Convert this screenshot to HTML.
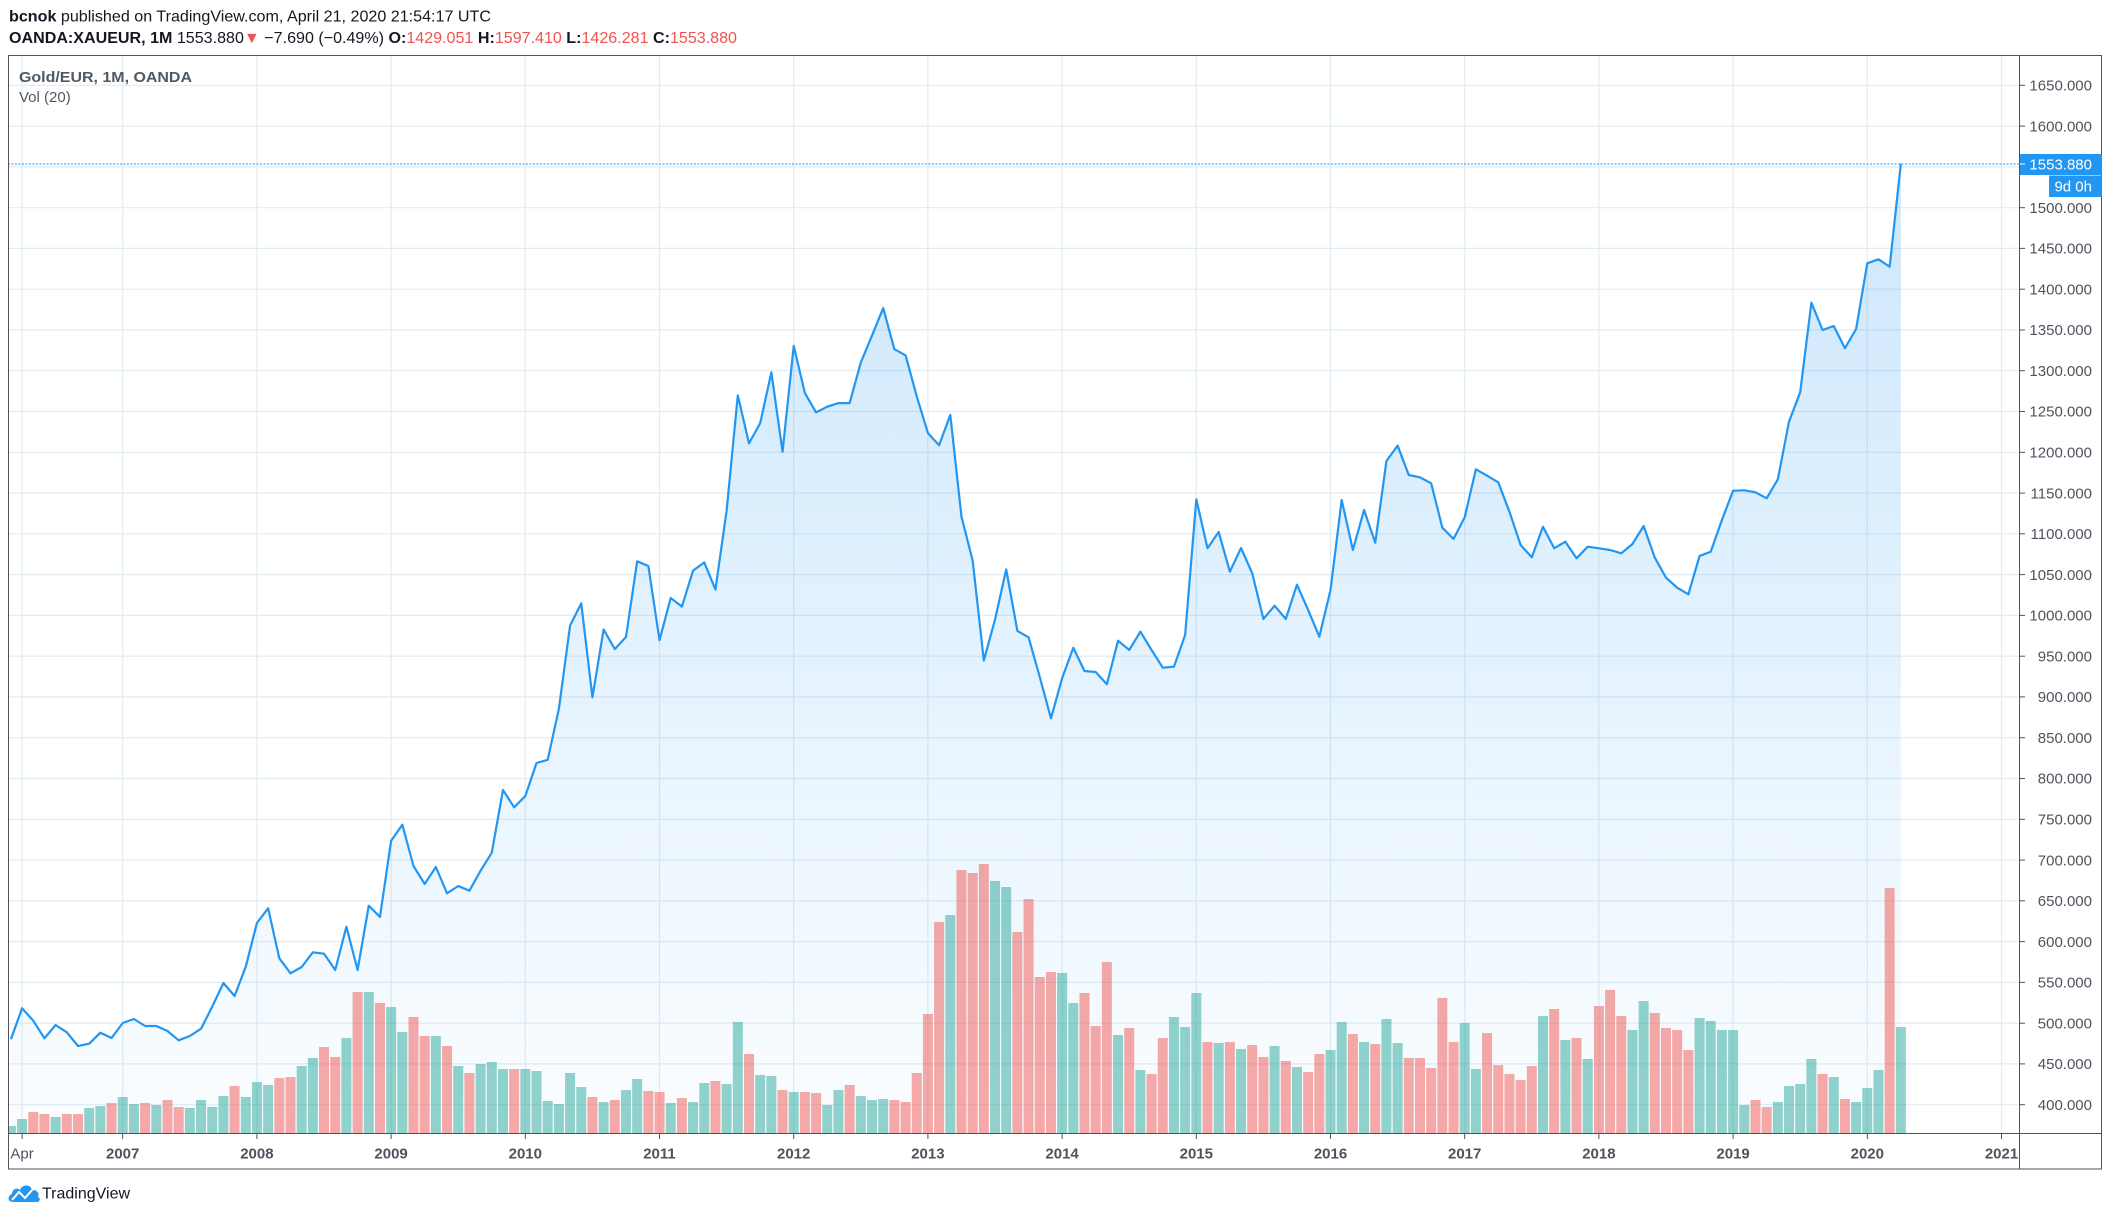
<!DOCTYPE html>
<html><head><meta charset="utf-8"><style>
html,body{margin:0;padding:0;background:#fff;width:2110px;height:1216px;overflow:hidden;}
svg{display:block;}
text{font-family:"Liberation Sans",Arial,sans-serif;}
</style></head><body>
<svg width="2110" height="1216" viewBox="0 0 2110 1216" xmlns="http://www.w3.org/2000/svg">
<defs>
<linearGradient id="ag" gradientUnits="userSpaceOnUse" x1="0" y1="55" x2="0" y2="1134">
<stop offset="0" stop-color="#2196f3" stop-opacity="0.25"/>
<stop offset="1" stop-color="#2196f3" stop-opacity="0.02"/>
</linearGradient>
<clipPath id="plot"><rect x="8.5" y="55.5" width="2011" height="1078"/></clipPath>
</defs>
<rect width="2110" height="1216" fill="#fff"/>

<!-- header -->
<text x="9" y="21.5" font-size="16" fill="#131722" textLength="482" lengthAdjust="spacingAndGlyphs"><tspan font-weight="bold">bcnok</tspan> published on TradingView.com, April 21, 2020 21:54:17 UTC</text>
<text x="9" y="43" font-size="16" fill="#131722" textLength="728" lengthAdjust="spacingAndGlyphs"><tspan font-weight="bold">OANDA:XAUEUR, 1M</tspan> 1553.880<tspan fill="#ef5350">▼</tspan> −7.690 (−0.49%) <tspan font-weight="bold">O:</tspan><tspan fill="#ef5350">1429.051</tspan> <tspan font-weight="bold">H:</tspan><tspan fill="#ef5350">1597.410</tspan> <tspan font-weight="bold">L:</tspan><tspan fill="#ef5350">1426.281</tspan> <tspan font-weight="bold">C:</tspan><tspan fill="#ef5350">1553.880</tspan></text>

<!-- grid -->
<g stroke="#e1ecf2" stroke-width="1.2" clip-path="url(#plot)">
<line x1="8" x2="2019" y1="85.3" y2="85.3"/><line x1="8" x2="2019" y1="126.1" y2="126.1"/><line x1="8" x2="2019" y1="166.9" y2="166.9"/><line x1="8" x2="2019" y1="207.7" y2="207.7"/><line x1="8" x2="2019" y1="248.4" y2="248.4"/><line x1="8" x2="2019" y1="289.2" y2="289.2"/><line x1="8" x2="2019" y1="330" y2="330"/><line x1="8" x2="2019" y1="370.7" y2="370.7"/><line x1="8" x2="2019" y1="411.5" y2="411.5"/><line x1="8" x2="2019" y1="452.3" y2="452.3"/><line x1="8" x2="2019" y1="493.1" y2="493.1"/><line x1="8" x2="2019" y1="533.8" y2="533.8"/><line x1="8" x2="2019" y1="574.6" y2="574.6"/><line x1="8" x2="2019" y1="615.4" y2="615.4"/><line x1="8" x2="2019" y1="656.2" y2="656.2"/><line x1="8" x2="2019" y1="696.9" y2="696.9"/><line x1="8" x2="2019" y1="737.7" y2="737.7"/><line x1="8" x2="2019" y1="778.5" y2="778.5"/><line x1="8" x2="2019" y1="819.3" y2="819.3"/><line x1="8" x2="2019" y1="860.1" y2="860.1"/><line x1="8" x2="2019" y1="900.8" y2="900.8"/><line x1="8" x2="2019" y1="941.6" y2="941.6"/><line x1="8" x2="2019" y1="982.4" y2="982.4"/><line x1="8" x2="2019" y1="1023.2" y2="1023.2"/><line x1="8" x2="2019" y1="1063.9" y2="1063.9"/><line x1="8" x2="2019" y1="1104.7" y2="1104.7"/>
<line y1="55" y2="1134" x1="22.1" x2="22.1"/><line y1="55" y2="1134" x1="122.7" x2="122.7"/><line y1="55" y2="1134" x1="256.9" x2="256.9"/><line y1="55" y2="1134" x1="391.1" x2="391.1"/><line y1="55" y2="1134" x1="525.3" x2="525.3"/><line y1="55" y2="1134" x1="659.5" x2="659.5"/><line y1="55" y2="1134" x1="793.7" x2="793.7"/><line y1="55" y2="1134" x1="927.9" x2="927.9"/><line y1="55" y2="1134" x1="1062.1" x2="1062.1"/><line y1="55" y2="1134" x1="1196.3" x2="1196.3"/><line y1="55" y2="1134" x1="1330.5" x2="1330.5"/><line y1="55" y2="1134" x1="1464.7" x2="1464.7"/><line y1="55" y2="1134" x1="1598.9" x2="1598.9"/><line y1="55" y2="1134" x1="1733.1" x2="1733.1"/><line y1="55" y2="1134" x1="1867.3" x2="1867.3"/><line y1="55" y2="1134" x1="2001.5" x2="2001.5"/>
</g>

<!-- legend -->
<text x="19" y="82" font-size="15" font-weight="bold" fill="#4f5966" textLength="173" lengthAdjust="spacingAndGlyphs">Gold/EUR, 1M, OANDA</text>
<text x="19" y="102" font-size="15" fill="#4f5966">Vol (20)</text>

<g clip-path="url(#plot)">
<g transform="translate(22.1 0) scale(11.183 1)">
<polygon fill="url(#ag)" points="-1,1133.3 -1,1039.3 0,1008.3 1,1020.7 2,1038.3 3,1025 4,1032.3 5,1046 6,1043.7 7,1032.7 8,1038 9,1023 10,1019 11,1026 12,1026 13,1031 14,1040.3 15,1036 16,1028.7 17,1006.7 18,983 19,996 20,966.7 21,923 22,908.3 23,958.3 24,973.3 25,967 26,952.3 27,953.7 28,970 29,926.7 30,970 31,905.7 32,917 33,840.7 34,824.7 35,866 36,884 37,867 38,893.3 39,886 40,890.7 41,870.7 42,852.7 43,790 44,807.3 45,796 46,763 47,759.8 48,708.8 49,625.6 50,603.4 51,697.3 52,629.5 53,649.1 54,637 55,561.3 56,566 57,640.2 58,598 59,606.6 60,570.6 61,562.4 62,589.5 63,510.6 64,395.3 65,443.4 66,423.1 67,372.4 68,451.7 69,346 70,393.1 71,412.4 72,406.7 73,403.1 74,403.1 75,362.4 76,335.6 77,308.1 78,349.2 79,355.3 80,396.3 81,433.1 82,445.2 83,414.9 84,516.6 85,560.6 86,660.6 87,619.5 88,569.5 89,630.9 90,637.3 91,677 92,718.3 93,678.3 94,647.7 95,671 96,672 97,684.3 98,640.7 99,650 100,631.7 101,650 102,667.7 103,666.7 104,635 105,499.3 106,548.3 107,532 108,571.7 109,548 110,573.3 111,619 112,605.7 113,619 114,584.7 115,610 116,636.7 117,590 118,500 119,550 120,510 121,542.7 122,461 123,445.7 124,475 125,477.3 126,483.3 127,527.7 128,539 129,517.3 130,469.3 131,475.7 132,482.3 133,511.7 134,545 135,557.3 136,526.7 137,548.3 138,541.7 139,558.3 140,546.7 141,548.3 142,550 143,553.3 144,544 145,526 146,557.7 147,577.7 148,587.7 149,594.3 150,556 151,551.7 152,520 153,490.7 154,490.3 155,492.3 156,498.3 157,479.3 158,421.7 159,392.3 160,302.7 161,330 162,326 163,348.3 164,329 165,263.3 166,259.3 167,266.7 168,163.7 168,1133.3"/>

<!-- volume bars as vertical strokes (width 0.894 user units = 10px) -->
<path fill="none" stroke="rgba(38,166,154,0.5)" stroke-width="0.894" stroke-linecap="butt" d="M-1,1126V1133.3M0,1119V1133.3M3,1117V1133.3M6,1108V1133.3M7,1106V1133.3M9,1097V1133.3M10,1104V1133.3M12,1105V1133.3M15,1108V1133.3M16,1100V1133.3M17,1107V1133.3M18,1096V1133.3M20,1097V1133.3M21,1082V1133.3M22,1085V1133.3M25,1066V1133.3M26,1058V1133.3M29,1038V1133.3M31,992V1133.3M33,1007V1133.3M34,1032V1133.3M37,1036V1133.3M39,1066V1133.3M41,1064V1133.3M42,1062V1133.3M43,1069V1133.3M45,1069V1133.3M46,1071V1133.3M47,1101V1133.3M48,1104V1133.3M49,1073V1133.3M50,1087V1133.3M52,1102V1133.3M54,1090V1133.3M55,1079V1133.3M58,1103V1133.3M60,1102V1133.3M61,1083V1133.3M63,1084V1133.3M64,1022V1133.3M66,1075V1133.3M67,1076V1133.3M69,1092V1133.3M72,1105V1133.3M73,1090V1133.3M75,1096V1133.3M76,1100V1133.3M77,1099V1133.3M83,915V1133.3M87,881V1133.3M88,887V1133.3M93,973V1133.3M94,1003V1133.3M98,1035V1133.3M100,1070V1133.3M103,1017V1133.3M104,1027V1133.3M105,993V1133.3M107,1043V1133.3M109,1049V1133.3M112,1046V1133.3M114,1067V1133.3M117,1050V1133.3M118,1022V1133.3M120,1042V1133.3M122,1019V1133.3M123,1043V1133.3M129,1023V1133.3M130,1069V1133.3M136,1016V1133.3M138,1040V1133.3M140,1059V1133.3M144,1030V1133.3M145,1001V1133.3M150,1018V1133.3M151,1021V1133.3M152,1030V1133.3M153,1030V1133.3M154,1105V1133.3M157,1102V1133.3M158,1086V1133.3M159,1084V1133.3M160,1059V1133.3M162,1077V1133.3M164,1102V1133.3M165,1088V1133.3M166,1070V1133.3M168,1027V1133.3"/>
<path fill="none" stroke="rgba(239,83,80,0.5)" stroke-width="0.894" stroke-linecap="butt" d="M1,1112V1133.3M2,1114V1133.3M4,1114V1133.3M5,1114V1133.3M8,1103V1133.3M11,1103V1133.3M13,1100V1133.3M14,1107V1133.3M19,1086V1133.3M23,1078V1133.3M24,1077V1133.3M27,1047V1133.3M28,1057V1133.3M30,992V1133.3M32,1003V1133.3M35,1017V1133.3M36,1036V1133.3M38,1046V1133.3M40,1073V1133.3M44,1069V1133.3M51,1097V1133.3M53,1100V1133.3M56,1091V1133.3M57,1092V1133.3M59,1098V1133.3M62,1081V1133.3M65,1054V1133.3M68,1090V1133.3M70,1092V1133.3M71,1093V1133.3M74,1085V1133.3M78,1100V1133.3M79,1102V1133.3M80,1073V1133.3M81,1014V1133.3M82,922V1133.3M84,870V1133.3M85,873V1133.3M86,864V1133.3M89,932V1133.3M90,899V1133.3M91,977V1133.3M92,972V1133.3M95,993V1133.3M96,1026V1133.3M97,962V1133.3M99,1028V1133.3M101,1074V1133.3M102,1038V1133.3M106,1042V1133.3M108,1042V1133.3M110,1045V1133.3M111,1057V1133.3M113,1061V1133.3M115,1072V1133.3M116,1054V1133.3M119,1034V1133.3M121,1044V1133.3M124,1058V1133.3M125,1058V1133.3M126,1068V1133.3M127,998V1133.3M128,1042V1133.3M131,1033V1133.3M132,1065V1133.3M133,1074V1133.3M134,1080V1133.3M135,1066V1133.3M137,1009V1133.3M139,1038V1133.3M141,1006V1133.3M142,990V1133.3M143,1016V1133.3M146,1013V1133.3M147,1028V1133.3M148,1030V1133.3M149,1050V1133.3M155,1100V1133.3M156,1107V1133.3M161,1074V1133.3M163,1099V1133.3M167,888V1133.3"/>

<polyline fill="none" stroke="#2196f3" stroke-width="2.2" stroke-linejoin="round" vector-effect="non-scaling-stroke" points="-1,1039.3 0,1008.3 1,1020.7 2,1038.3 3,1025 4,1032.3 5,1046 6,1043.7 7,1032.7 8,1038 9,1023 10,1019 11,1026 12,1026 13,1031 14,1040.3 15,1036 16,1028.7 17,1006.7 18,983 19,996 20,966.7 21,923 22,908.3 23,958.3 24,973.3 25,967 26,952.3 27,953.7 28,970 29,926.7 30,970 31,905.7 32,917 33,840.7 34,824.7 35,866 36,884 37,867 38,893.3 39,886 40,890.7 41,870.7 42,852.7 43,790 44,807.3 45,796 46,763 47,759.8 48,708.8 49,625.6 50,603.4 51,697.3 52,629.5 53,649.1 54,637 55,561.3 56,566 57,640.2 58,598 59,606.6 60,570.6 61,562.4 62,589.5 63,510.6 64,395.3 65,443.4 66,423.1 67,372.4 68,451.7 69,346 70,393.1 71,412.4 72,406.7 73,403.1 74,403.1 75,362.4 76,335.6 77,308.1 78,349.2 79,355.3 80,396.3 81,433.1 82,445.2 83,414.9 84,516.6 85,560.6 86,660.6 87,619.5 88,569.5 89,630.9 90,637.3 91,677 92,718.3 93,678.3 94,647.7 95,671 96,672 97,684.3 98,640.7 99,650 100,631.7 101,650 102,667.7 103,666.7 104,635 105,499.3 106,548.3 107,532 108,571.7 109,548 110,573.3 111,619 112,605.7 113,619 114,584.7 115,610 116,636.7 117,590 118,500 119,550 120,510 121,542.7 122,461 123,445.7 124,475 125,477.3 126,483.3 127,527.7 128,539 129,517.3 130,469.3 131,475.7 132,482.3 133,511.7 134,545 135,557.3 136,526.7 137,548.3 138,541.7 139,558.3 140,546.7 141,548.3 142,550 143,553.3 144,544 145,526 146,557.7 147,577.7 148,587.7 149,594.3 150,556 151,551.7 152,520 153,490.7 154,490.3 155,492.3 156,498.3 157,479.3 158,421.7 159,392.3 160,302.7 161,330 162,326 163,348.3 164,329 165,263.3 166,259.3 167,266.7 168,163.7"/>
</g>
<line x1="8" x2="2019" y1="164" y2="164" stroke="#2196f3" stroke-width="1" stroke-dasharray="2 1.5"/>
</g>

<!-- frame and axes -->
<rect x="8.5" y="55.5" width="2093" height="1113.5" fill="none" stroke="#50535e" stroke-width="1"/>
<line x1="2019.5" x2="2019.5" y1="55" y2="1169" stroke="#50535e" stroke-width="1"/>
<line x1="8" x2="2102" y1="1133.5" y2="1133.5" stroke="#50535e" stroke-width="1"/>

<!-- price axis ticks -->
<g stroke="#50535e" stroke-width="1">
<line x1="2019.5" x2="2025" y1="85.3" y2="85.3"/><line x1="2019.5" x2="2025" y1="126.1" y2="126.1"/><line x1="2019.5" x2="2025" y1="207.7" y2="207.7"/><line x1="2019.5" x2="2025" y1="248.4" y2="248.4"/><line x1="2019.5" x2="2025" y1="289.2" y2="289.2"/><line x1="2019.5" x2="2025" y1="330" y2="330"/><line x1="2019.5" x2="2025" y1="370.7" y2="370.7"/><line x1="2019.5" x2="2025" y1="411.5" y2="411.5"/><line x1="2019.5" x2="2025" y1="452.3" y2="452.3"/><line x1="2019.5" x2="2025" y1="493.1" y2="493.1"/><line x1="2019.5" x2="2025" y1="533.8" y2="533.8"/><line x1="2019.5" x2="2025" y1="574.6" y2="574.6"/><line x1="2019.5" x2="2025" y1="615.4" y2="615.4"/><line x1="2019.5" x2="2025" y1="656.2" y2="656.2"/><line x1="2019.5" x2="2025" y1="696.9" y2="696.9"/><line x1="2019.5" x2="2025" y1="737.7" y2="737.7"/><line x1="2019.5" x2="2025" y1="778.5" y2="778.5"/><line x1="2019.5" x2="2025" y1="819.3" y2="819.3"/><line x1="2019.5" x2="2025" y1="860.1" y2="860.1"/><line x1="2019.5" x2="2025" y1="900.8" y2="900.8"/><line x1="2019.5" x2="2025" y1="941.6" y2="941.6"/><line x1="2019.5" x2="2025" y1="982.4" y2="982.4"/><line x1="2019.5" x2="2025" y1="1023.2" y2="1023.2"/><line x1="2019.5" x2="2025" y1="1063.9" y2="1063.9"/><line x1="2019.5" x2="2025" y1="1104.7" y2="1104.7"/>
</g>
<g font-size="15" fill="#50535e" text-anchor="end">
<text x="2092" y="90.5">1650.000</text><text x="2092" y="131.3">1600.000</text><text x="2092" y="212.9">1500.000</text><text x="2092" y="253.6">1450.000</text><text x="2092" y="294.4">1400.000</text><text x="2092" y="335.2">1350.000</text><text x="2092" y="375.9">1300.000</text><text x="2092" y="416.7">1250.000</text><text x="2092" y="457.5">1200.000</text><text x="2092" y="498.3">1150.000</text><text x="2092" y="539">1100.000</text><text x="2092" y="579.8">1050.000</text><text x="2092" y="620.6">1000.000</text><text x="2092" y="661.4">950.000</text><text x="2092" y="702.1">900.000</text><text x="2092" y="742.9">850.000</text><text x="2092" y="783.7">800.000</text><text x="2092" y="824.5">750.000</text><text x="2092" y="865.3">700.000</text><text x="2092" y="906">650.000</text><text x="2092" y="946.8">600.000</text><text x="2092" y="987.6">550.000</text><text x="2092" y="1028.4">500.000</text><text x="2092" y="1069.1">450.000</text><text x="2092" y="1109.9">400.000</text>
</g>

<!-- last price labels -->
<rect x="2020" y="154" width="82" height="21" fill="#2196f3"/>
<line x1="2019.5" x2="2025" y1="164" y2="164" stroke="#fff" stroke-width="1"/>
<text x="2092" y="169.5" font-size="15" fill="#fff" text-anchor="end">1553.880</text>
<rect x="2049" y="175.5" width="53" height="21.5" fill="#2196f3"/>
<text x="2092" y="191.5" font-size="15" fill="#fff" text-anchor="end">9d 0h</text>

<!-- time axis -->
<g stroke="#50535e" stroke-width="1">
<line y1="1133.5" y2="1139" x1="22.1" x2="22.1"/><line y1="1133.5" y2="1139" x1="122.7" x2="122.7"/><line y1="1133.5" y2="1139" x1="256.9" x2="256.9"/><line y1="1133.5" y2="1139" x1="391.1" x2="391.1"/><line y1="1133.5" y2="1139" x1="525.3" x2="525.3"/><line y1="1133.5" y2="1139" x1="659.5" x2="659.5"/><line y1="1133.5" y2="1139" x1="793.7" x2="793.7"/><line y1="1133.5" y2="1139" x1="927.9" x2="927.9"/><line y1="1133.5" y2="1139" x1="1062.1" x2="1062.1"/><line y1="1133.5" y2="1139" x1="1196.3" x2="1196.3"/><line y1="1133.5" y2="1139" x1="1330.5" x2="1330.5"/><line y1="1133.5" y2="1139" x1="1464.7" x2="1464.7"/><line y1="1133.5" y2="1139" x1="1598.9" x2="1598.9"/><line y1="1133.5" y2="1139" x1="1733.1" x2="1733.1"/><line y1="1133.5" y2="1139" x1="1867.3" x2="1867.3"/><line y1="1133.5" y2="1139" x1="2001.5" x2="2001.5"/>
</g>
<g font-size="15" fill="#50535e" text-anchor="middle">
<text x="22.1" y="1158.5">Apr</text>
<g font-weight="bold">
<text x="122.7" y="1158.5">2007</text><text x="256.9" y="1158.5">2008</text><text x="391.1" y="1158.5">2009</text><text x="525.3" y="1158.5">2010</text><text x="659.5" y="1158.5">2011</text><text x="793.7" y="1158.5">2012</text><text x="927.9" y="1158.5">2013</text><text x="1062.1" y="1158.5">2014</text><text x="1196.3" y="1158.5">2015</text><text x="1330.5" y="1158.5">2016</text><text x="1464.7" y="1158.5">2017</text><text x="1598.9" y="1158.5">2018</text><text x="1733.1" y="1158.5">2019</text><text x="1867.3" y="1158.5">2020</text><text x="2001.5" y="1158.5">2021</text>
</g>
</g>

<!-- TradingView logo -->
<g>
<path d="M10,1201 C8,1201 8,1195 12,1194 C12,1189 17,1187 20,1190 C22,1184 31,1184 32,1190 C36,1189 40,1193 38,1197 C41,1198 40,1202 37,1202 L12,1202 Z" fill="#2196f3"/>
<polyline points="12,1200 19,1192 25,1198 33,1189" fill="none" stroke="#fff" stroke-width="2"/>
<text x="42" y="1198.5" font-size="16" fill="#131722">TradingView</text>
</g>
</svg>
</body></html>
